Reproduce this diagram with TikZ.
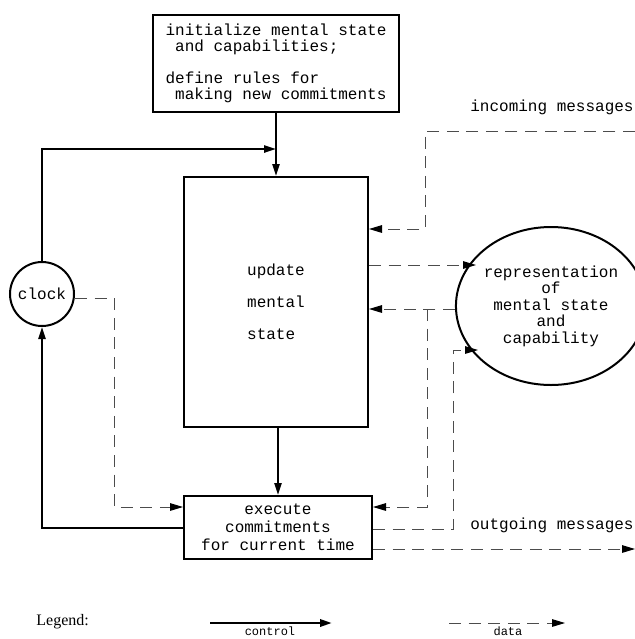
\documentclass[tikz,border=0pt]{standalone}
\usepackage{fontspec}
\setmainfont{Liberation Serif}
\setmonofont{Liberation Mono}
\usetikzlibrary{arrows.meta}
\usetikzlibrary{shapes.geometric}
\tikzset{control/.style={line width=1pt,
			-{Triangle[length=6pt,width=3.6pt]}},
	data/.style={line width=0.5pt,black!70,
			dash pattern=on 6pt off 3.8pt,
			-{Triangle[length=6.5pt,width=3.8pt,color=black]}},
	plainbox/.style={draw,line width=1pt,rectangle,inner sep=0pt,
			font=\ttfamily\fontsize{8}{8}\selectfont},
	smalltext/.style={inner sep=0pt,font=\ttfamily\fontsize{8}{8}\selectfont}}

\begin{document}
\begin{tikzpicture}[x=0.5pt,y=-0.5pt]
		\useasboundingbox (0,0) rectangle (635,639);
		
		\node[plainbox,minimum width=123pt,minimum height=48.5pt,align=left] (initBox) at (276,63)
			{initialize mental state\\\ and capabilities;\\[8pt]define rules for\\\ making new commitments};
		\node[plainbox,minimum width=92pt,minimum height=125pt,align=left,
			font=\ttfamily\fontsize{8}{16}\selectfont] (updateBox) at (276,302) {update\\mental\\state};
		\node[plainbox,minimum width=94pt,minimum height=31.5pt,align=center,
			font=\ttfamily\fontsize{8}{9}\selectfont] (execBox) at (278,527.5) {execute\\commitments\\for current time};
		\node[plainbox,circle,minimum size=32pt] (clockNode) at (42,294) {clock};
		\node[plainbox,ellipse,minimum width=83pt,minimum height=79pt,align=center,
			font=\ttfamily\fontsize{8}{8.25}\selectfont] (reprNode) at (551,306)
			{representation\\of\\mental state\\and\\capability};
		
		\node[smalltext,anchor=west] (inLabel) at (470,107) {incoming messages};
		\node[smalltext,anchor=west] (outLabel) at (470,525) {outgoing messages};
		
		\coordinate (joinTop) at (276,149);
		\coordinate (inStart) at (635,131);
		\coordinate (reprIn) at (476,265);
		\coordinate (reprInLow) at (478,350);
		\coordinate (outEnd) at (635,549);
		
		% control flow
		\draw[control] (initBox.south) -- (updateBox.north -| initBox.south);
		\draw[control] (clockNode.north) |- (joinTop);
		\draw[control] (updateBox.south -| execBox.north) -- (execBox.north);
		\draw[control] (execBox.west) -| (clockNode.south);
		
		% data flow
		\draw[data] (inStart) -| (425,229) -- (updateBox.east |- 0,229);
		\draw[data] (updateBox.east |- reprIn) -- (reprIn);
		\draw[data] (reprNode.west |- 0,309) -- (updateBox.east |- 0,309);
		\draw[data] (427,309) |- (execBox.east |- 0,507);
		\draw[data] (execBox.east |- 0,529) -| (453,350) -- (reprInLow);
		\draw[data] (execBox.east |- 0,549) -- (outEnd);
		\draw[data] (clockNode.east |- 0,298) -| (114,507) -- (execBox.west |- 0,507);
		
		% legend
		\node[anchor=west,inner sep=0pt,font=\fontsize{8}{8}\selectfont] (legendLabel) at (36,622) {Legend:};
		\coordinate (ctrlFrom) at (210,623);
		\coordinate (ctrlTo) at (332,623);
		\coordinate (dataFrom) at (449,623);
		\coordinate (dataTo) at (565,623);
		\draw[control,line width=1.3pt] (ctrlFrom) -- (ctrlTo);
		\draw[data] (dataFrom) -- (dataTo);
		\node[anchor=north,inner sep=0pt,font=\ttfamily\fontsize{6}{6}\selectfont] (ctrlLabel) at (270,626) {control};
		\node[anchor=north,inner sep=0pt,font=\ttfamily\fontsize{6}{6}\selectfont] (dataLabel) at (508,626) {data};
\end{tikzpicture}
\end{document}
